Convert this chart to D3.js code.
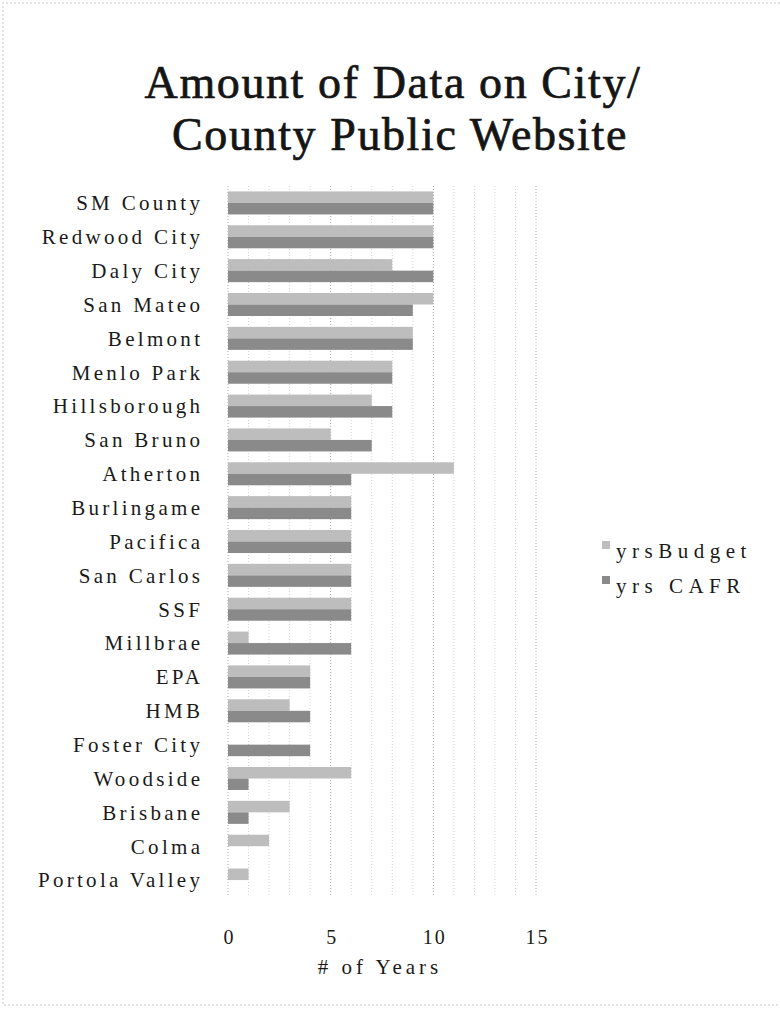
<html>
<head>
    <style>
        body { margin: 0; background: #fff; }
        text { font-family: "Liberation Serif", "DejaVu Serif", serif; }
    </style>
</head>
<body>
    <svg id="chart"></svg>
</body>
<script src="https://cdn.jsdelivr.net/npm/d3@7"></script>
<script>
    // data
    let cities = ["SM County", "Redwood City", "Daly City", "San Mateo", "Belmont", "Menlo Park",
        "Hillsborough", "San Bruno", "Atherton", "Burlingame", "Pacifica", "San Carlos", "SSF",
        "Millbrae", "EPA", "HMB", "Foster City", "Woodside", "Brisbane", "Colma", "Portola Valley"]
    let yrsBudget = [10, 10, 8, 10, 9, 8, 7, 5, 11, 6, 6, 6, 6, 1, 4, 3, 0, 6, 3, 2, 1]
    let yrsCAFR = [10, 10, 10, 9, 9, 8, 8, 7, 6, 6, 6, 6, 6, 6, 4, 4, 4, 1, 1, 0, 0]
    let seriesNames = ["yrsBudget", "yrs CAFR"]
    let xTicks = [0, 5, 10, 15]

    let width = 780, height = 1013
    let plot = { left: 228, right: 536, top: 186, bottom: 897 }
    let colors = ["#bdbdbd", "#8a8a8a"]
    let ls = 3.3 // wide letter spacing of the scanned labels

    let svg = d3.select("#chart").attr("width", width).attr("height", height)

    // faint page border like the scan
    svg.append("path")
        .attr("d", `M${width},3 H3 V1005 H${width}`)
        .attr("fill", "none").attr("stroke", "#c8c8c8").attr("stroke-dasharray", "2,2")

    // title, two separate lines
    let titleLines = ["Amount of Data on City/", "County Public Website"]
    svg.append("g").selectAll("text")
        .data(titleLines)
        .enter().append("text")
        .attr("x", (d, i) => i == 0 ? 393 : 400)
        .attr("y", (d, i) => 98 + i * 52)
        .attr("text-anchor", "middle").attr("font-size", 46)
        .attr("letter-spacing", 1.6).attr("fill", "#151515")
        .attr("stroke", "#151515").attr("stroke-width", 0.7)
        .text(d => d)

    let x = d3.scaleLinear().domain([0, 15]).range([plot.left, plot.right])
    let y = d3.scaleBand().domain(cities).range([plot.top, plot.bottom]).paddingInner(0.32).paddingOuter(0.16)
    let sub = d3.scaleBand().domain(seriesNames).range([0, y.bandwidth()])

    // grid, one line per year
    svg.append("g").selectAll("line")
        .data(d3.range(0, 16))
        .enter().append("line")
        .attr("x1", d => x(d)).attr("x2", d => x(d))
        .attr("y1", plot.top).attr("y2", plot.bottom)
        .attr("stroke", d => d % 5 == 0 ? "#aaa" : "#d4d4d4")
        .attr("stroke-dasharray", "1,2")

    let rows = cities.map((c, i) => ({ city: c, values: [yrsBudget[i], yrsCAFR[i]] }))

    let groups = svg.append("g").selectAll("g")
        .data(rows)
        .enter().append("g")
        .attr("transform", d => `translate(0,${y(d.city)})`)

    groups.selectAll("rect")
        .data(d => d.values.map((v, k) => ({ key: seriesNames[k], value: v, k: k })))
        .enter().append("rect")
        .attr("x", x(0))
        .attr("y", d => sub(d.key))
        .attr("width", d => x(d.value) - x(0))
        .attr("height", sub.bandwidth())
        .attr("fill", d => colors[d.k])

    // category labels
    svg.append("g").selectAll("text")
        .data(cities)
        .enter().append("text")
        .attr("x", 200 + ls)
        .attr("y", d => y(d) + y.bandwidth() / 2)
        .attr("dy", "0.35em")
        .attr("text-anchor", "end")
        .attr("font-size", 21)
        .attr("letter-spacing", ls)
        .attr("fill", "#1a1a1a")
        .text(d => d)

    // x axis, no domain line
    let xAxis = svg.append("g")
        .attr("transform", `translate(0,${plot.bottom})`)
        .call(d3.axisBottom(x).tickValues(xTicks).tickSize(0).tickPadding(33))
    xAxis.select(".domain").remove()
    xAxis.selectAll("text")
        .attr("font-family", "Liberation Serif, serif").attr("font-size", 20)
        .attr("letter-spacing", 2).attr("dx", 1).attr("fill", "#1a1a1a")

    svg.append("text")
        .attr("x", 380).attr("y", 974)
        .attr("text-anchor", "middle").attr("font-size", 21).attr("letter-spacing", 4)
        .attr("fill", "#1a1a1a")
        .text("# of Years")

    // legend
    let legend = svg.append("g").selectAll("g")
        .data(seriesNames)
        .enter().append("g")
        .attr("transform", (d, i) => `translate(602,${549 + i * 35})`)
    legend.append("rect").attr("width", 8).attr("height", 8).attr("y", -8)
        .attr("fill", (d, i) => colors[i])
    legend.append("text").attr("x", 14).attr("y", 2).attr("dy", "0.35em")
        .attr("font-size", 21).attr("letter-spacing", 5.5).attr("fill", "#1a1a1a").text(d => d)
</script>
</html>
